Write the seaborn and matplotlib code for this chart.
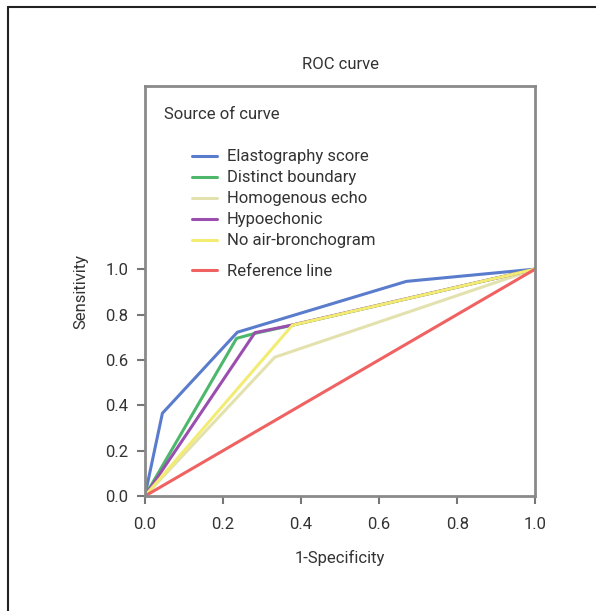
import numpy as np
import pandas as pd
import seaborn as sns
import matplotlib.pyplot as plt
from matplotlib.lines import Line2D

# ROC curve points
elasto_x = [0.0, 0.045, 0.237, 0.670, 1.0]
elasto_y = [0.0, 0.365, 0.722, 0.946, 1.0]
boundary_x = [0.0, 0.235, 0.282, 0.378, 1.0]
boundary_y = [0.0, 0.695, 0.717, 0.753, 1.0]
homog_x = [0.0, 0.333, 1.0]
homog_y = [0.0, 0.612, 1.0]
hypo_x = [0.0, 0.282, 0.378, 1.0]
hypo_y = [0.0, 0.720, 0.754, 1.0]
noair_x = [0.0, 0.378, 1.0]
noair_y = [0.0, 0.753, 1.0]
ref_x = [0.0, 1.0]
ref_y = [0.0, 1.0]

names = ['Elastography score', 'Distinct boundary', 'Homogenous echo',
         'Hypoechonic', 'No air-bronchogram']
colors = ['#5a7ccc', '#4db86b', '#e3e2ae', '#9a4fae', '#f3ec72']
ref_color = '#f06262'
ticks = [0.0, 0.2, 0.4, 0.6, 0.8, 1.0]

frames = []
for name, xs, ys in zip(names,
                        [elasto_x, boundary_x, homog_x, hypo_x, noair_x],
                        [elasto_y, boundary_y, homog_y, hypo_y, noair_y]):
    frames.append(pd.DataFrame({'fpr': xs, 'tpr': ys, 'curve': name}))
roc = pd.concat(frames, ignore_index=True)

sns.set_style('white')
plt.rcParams['font.family'] = ['Roboto', 'DejaVu Sans']

fig = plt.figure(figsize=(5.96, 6.11), dpi=100)
ax = fig.add_axes([0.243, 0.188, 0.655, 0.671])

sns.lineplot(data=roc, x='fpr', y='tpr', hue='curve', palette=colors,
             hue_order=names, sort=False, estimator=None, lw=2.2, ax=ax,
             legend=False)
sns.lineplot(x=ref_x, y=ref_y, color=ref_color, lw=2.2, ax=ax)

ax.set_xlim(0, 1)
ax.set_ylim(0, 1.806)
ax.set_xticks(ticks)
ax.set_yticks(ticks)
ax.set_xticklabels([f'{t:.1f}' for t in ticks], fontsize=12, color='#333333')
ax.set_yticklabels([f'{t:.1f}' for t in ticks], fontsize=12, color='#333333')
ax.tick_params(direction='out', length=6, width=1.5, color='#777777',
               left=True, bottom=True)
ax.tick_params(axis='x', pad=9)
ax.tick_params(axis='y', pad=6)
for s in ax.spines.values():
    s.set_color('#8a8a8a')
    s.set_linewidth(2)

ax.set_xlabel('1-Specificity', fontsize=12, color='#333333', labelpad=13)
ax.set_ylabel('Sensitivity', fontsize=12, color='#333333', labelpad=12)
ax.set_title('ROC curve', fontsize=12, color='#333333', pad=12)

ax.text(0.05, 0.93, 'Source of curve', transform=ax.transAxes, fontsize=12,
        color='#333333', va='center')

handles = [Line2D([], [], color=c, lw=2.2) for c in colors]
leg1 = ax.legend(handles, names, loc='upper left', bbox_to_anchor=(0.105, 0.862),
                 frameon=False, fontsize=12, handlelength=1.5, handletextpad=0.55,
                 labelspacing=0.36, borderaxespad=0, labelcolor='#333333')
ax.add_artist(leg1)
ax.legend([Line2D([], [], color=ref_color, lw=2.2)], ['Reference line'],
          loc='upper left', bbox_to_anchor=(0.105, 0.583), frameon=False,
          fontsize=12, handlelength=1.5, handletextpad=0.55, borderaxespad=0,
          labelcolor='#333333')

# outer border (top and left only)
fig.add_artist(Line2D([8 / 596, 1.0], [1 - 7 / 611, 1 - 7 / 611],
                      transform=fig.transFigure, color='#222222', lw=1.5))
fig.add_artist(Line2D([8 / 596, 8 / 596], [0.0, 1 - 7 / 611],
                      transform=fig.transFigure, color='#222222', lw=1.5))

fig.savefig('out.png', dpi=100)
